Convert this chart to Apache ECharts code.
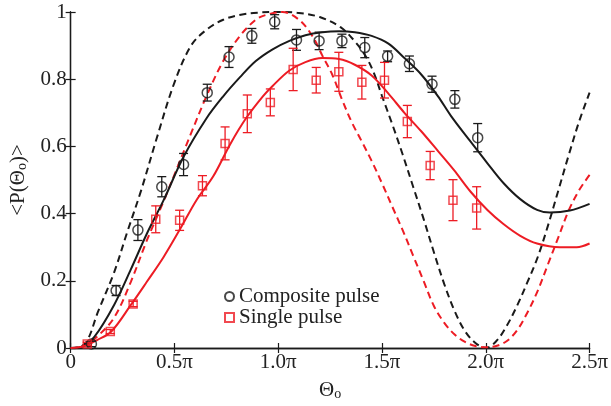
<!DOCTYPE html>
<html><head><meta charset="utf-8">
<script src="https://cdn.jsdelivr.net/npm/echarts@6/dist/echarts.min.js"></script>
<style>html,body{margin:0;padding:0;background:#fff}#c{width:611px;height:406px}</style>
</head><body><div id="c"></div>
<script>
// x values are in units of pi
const xTicks = [0, 0.5, 1.0, 1.5, 2.0, 2.5];
const yTicks = [0, 0.2, 0.4, 0.6, 0.8, 1];

// Composite pulse data (circles)
const compX = [0.10,0.219,0.324,0.439,0.544,0.658,0.763,0.873,0.983,1.088,1.197,1.307,1.417,1.527,1.632,1.741,1.851,1.961];
const compY = [0.012,0.171,0.351,0.48,0.546,0.76,0.866,0.929,0.971,0.917,0.914,0.914,0.894,0.868,0.846,0.785,0.74,0.626];
const compE = [0.008,0.015,0.031,0.03,0.033,0.025,0.031,0.022,0.021,0.031,0.026,0.02,0.03,0.016,0.023,0.024,0.026,0.042];

// Single pulse data (squares)
const singX = [0.08,0.191,0.301,0.41,0.525,0.635,0.744,0.851,0.962,1.072,1.183,1.292,1.403,1.512,1.622,1.732,1.842,1.956];
const singY = [0.012,0.049,0.131,0.383,0.38,0.483,0.609,0.697,0.731,0.829,0.797,0.822,0.791,0.797,0.674,0.543,0.44,0.417];
const singE = [0.005,0.006,0.008,0.04,0.03,0.03,0.049,0.056,0.04,0.063,0.038,0.058,0.05,0.053,0.048,0.042,0.061,0.063];

// Theory curves
const blackSolidX = [0,0.05,0.115,0.21,0.29,0.367,0.448,0.544,0.654,0.735,0.816,0.892,0.973,1.054,1.131,1.212,1.293,1.369,1.45,1.531,1.608,1.689,1.77,1.832,1.927,2.009,2.085,2.166,2.247,2.309,2.405,2.5];
const blackSolidY = [0,0.003,0.034,0.129,0.234,0.34,0.44,0.569,0.683,0.749,0.806,0.854,0.889,0.914,0.931,0.94,0.943,0.94,0.929,0.906,0.863,0.814,0.749,0.691,0.614,0.549,0.491,0.443,0.411,0.403,0.409,0.429];

const blackDashX = [0,0.04,0.08,0.13,0.21,0.27,0.34,0.415,0.5,0.58,0.65,0.735,0.82,0.9,1.0,1.1,1.2,1.3,1.37,1.42,1.46,1.5,1.55,1.6,1.65,1.7,1.75,1.8,1.85,1.9,1.95,2.0,2.05,2.1,2.15,2.2,2.25,2.3,2.35,2.4,2.45,2.5];
const blackDashY = [0,0.002,0.022,0.105,0.226,0.34,0.47,0.625,0.79,0.9,0.945,0.977,0.992,0.998,1.0,0.997,0.985,0.955,0.912,0.87,0.82,0.75,0.665,0.575,0.48,0.385,0.285,0.19,0.11,0.05,0.015,0.0,0.02,0.065,0.125,0.195,0.27,0.365,0.47,0.575,0.675,0.76];

const redSolidX = [0,0.067,0.129,0.196,0.291,0.367,0.448,0.53,0.606,0.687,0.768,0.844,0.926,0.973,1.054,1.131,1.212,1.293,1.369,1.45,1.531,1.608,1.689,1.77,1.846,1.927,2.009,2.085,2.166,2.247,2.357,2.438,2.5];
const redSolidY = [0,0.006,0.024,0.049,0.129,0.197,0.271,0.357,0.44,0.511,0.606,0.683,0.749,0.78,0.826,0.851,0.863,0.86,0.843,0.811,0.757,0.7,0.645,0.586,0.53,0.465,0.41,0.369,0.334,0.311,0.3,0.3,0.311];

const redDashX = [0,0.04,0.067,0.13,0.21,0.29,0.367,0.45,0.577,0.654,0.735,0.816,0.892,0.94,1.02,1.1,1.164,1.212,1.26,1.307,1.355,1.403,1.45,1.5,1.55,1.6,1.65,1.7,1.75,1.8,1.85,1.9,1.95,2.0,2.05,2.1,2.15,2.2,2.25,2.3,2.35,2.4,2.45,2.5];
const redDashY = [0,0.001,0.006,0.035,0.091,0.197,0.32,0.44,0.634,0.749,0.854,0.929,0.977,0.991,1.0,0.977,0.929,0.871,0.814,0.74,0.671,0.614,0.557,0.49,0.42,0.35,0.275,0.2,0.125,0.075,0.04,0.018,0.006,0.002,0.006,0.02,0.052,0.105,0.17,0.25,0.33,0.41,0.47,0.515];

const BLACK = '#1a1a1a';
const RED = '#ED1C24';
const FONT = 'Liberation Serif';

const zip = (xs, ys) => xs.map((x, i) => [x, ys[i]]);
const zip3 = (xs, ys, es) => xs.map((x, i) => [x, ys[i], es[i]]);

function errRender(color) {
  return function (params, api) {
    const x = api.value(0), y = api.value(1), e = api.value(2);
    const t = api.coord([x, y + e]), b = api.coord([x, y - e]);
    const hw = 4.5;
    const st = { stroke: color, lineWidth: 1.3 };
    return { type: 'group', children: [
      { type: 'line', shape: { x1: t[0], y1: t[1], x2: b[0], y2: b[1] }, style: st },
      { type: 'line', shape: { x1: t[0] - hw, y1: t[1], x2: t[0] + hw, y2: t[1] }, style: st },
      { type: 'line', shape: { x1: b[0] - hw, y1: b[1], x2: b[0] + hw, y2: b[1] }, style: st }
    ]};
  };
}

const chart = echarts.init(document.getElementById('c'), null, { renderer: 'canvas' });
const axisLine = { show: true, lineStyle: { color: BLACK, width: 1.3 } };
const tick = { show: true, inside: true, length: 5, lineStyle: { color: BLACK, width: 1.2 } };
const lab = { fontFamily: FONT, fontSize: 21, color: '#222' };
const lineCommon = { smooth: 0.35, showSymbol: false, symbol: 'none', silent: true };

chart.setOption({
  animation: false,
  backgroundColor: '#fff',
  grid: { left: 66, right: 21, top: 12, bottom: 44, containLabel: false },
  legend: {
    orient: 'vertical', left: 224, top: 286, padding: 0, itemGap: 0, itemWidth: 9, itemHeight: 9,
    textStyle: { fontFamily: FONT, fontSize: 21, color: '#222' },
    data: [
      { name: 'Composite pulse', icon: 'circle', itemStyle: { color: 'rgba(0,0,0,0)', borderColor: BLACK, borderWidth: 2 } },
      { name: 'Single pulse', icon: 'rect', itemStyle: { color: 'rgba(0,0,0,0)', borderColor: RED, borderWidth: 2 } }
    ]
  },
  xAxis: [
    { type: 'value', position: 'bottom', min: 0, max: 2.5, interval: 0.5,
      axisLine, axisTick: tick, splitLine: { show: false },
      axisLabel: Object.assign({ margin: 4, formatter: v => v === 0 ? '0' : v.toFixed(1) + 'π' }, lab),
      name: '{a|Θ}{s|o}', nameLocation: 'middle', nameGap: 31,
      nameTextStyle: { rich: { a: { fontFamily: FONT, fontSize: 21, color: '#222' }, s: { fontFamily: FONT, fontSize: 14, color: '#222', padding: [8, 0, 0, 0] } } } },
    { type: 'value', position: 'top', min: 0, max: 2.5, interval: 0.5,
      axisLine, axisTick: tick, axisLabel: { show: false }, splitLine: { show: false } }
  ],
  yAxis: [
    { type: 'value', position: 'left', min: 0, max: 1, interval: 0.2,
      axisLine, axisTick: tick, splitLine: { show: false },
      axisLabel: Object.assign({ margin: 4, formatter: v => (v === 0 || v === 1) ? String(v) : v.toFixed(1) }, lab),
      name: '{a|<P(Θ}{s|o}{a|)>}', nameLocation: 'middle', nameGap: 36, nameRotate: 90,
      nameTextStyle: { rich: { a: { fontFamily: FONT, fontSize: 21, color: '#222' }, s: { fontFamily: FONT, fontSize: 14, color: '#222', padding: [8, 0, 0, 0] } } } },
    { type: 'value', position: 'right', min: 0, max: 1, interval: 0.2,
      axisLine, axisTick: tick, axisLabel: { show: false }, splitLine: { show: false } }
  ],
  series: [
    Object.assign({ type: 'line', data: zip(blackDashX, blackDashY), lineStyle: { color: BLACK, width: 2, type: [7, 4.5] }, z: 2 }, lineCommon),
    Object.assign({ type: 'line', data: zip(redDashX, redDashY), lineStyle: { color: RED, width: 2, type: [7, 4.5] }, z: 2 }, lineCommon),
    Object.assign({ type: 'line', data: zip(blackSolidX, blackSolidY), lineStyle: { color: BLACK, width: 2 }, z: 3 }, lineCommon),
    Object.assign({ type: 'line', data: zip(redSolidX, redSolidY), lineStyle: { color: RED, width: 2 }, z: 3 }, lineCommon),
    { type: 'custom', data: zip3(compX, compY, compE), renderItem: errRender(BLACK), encode: { x: 0, y: 1 }, z: 4, silent: true },
    { type: 'custom', data: zip3(singX, singY, singE), renderItem: errRender(RED), encode: { x: 0, y: 1 }, z: 4, silent: true },
    { name: 'Composite pulse', type: 'scatter', data: zip(compX, compY), symbol: 'circle', symbolSize: 10,
      itemStyle: { color: 'rgba(0,0,0,0)', borderColor: BLACK, borderWidth: 1.5 }, z: 5 },
    { name: 'Single pulse', type: 'scatter', data: zip(singX, singY), symbol: 'rect', symbolSize: 8,
      itemStyle: { color: 'rgba(0,0,0,0)', borderColor: RED, borderWidth: 1.5 }, z: 5 }
  ]
});
</script></body></html>
